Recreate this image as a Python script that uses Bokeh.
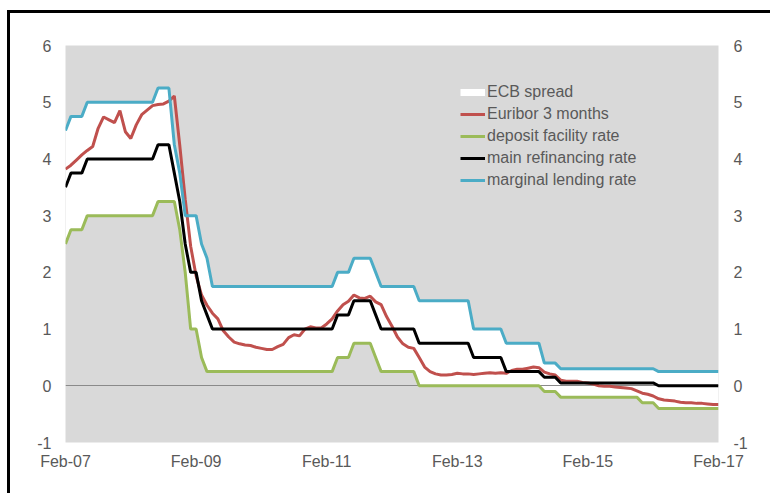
from bokeh.plotting import figure
from bokeh.models import (ColumnDataSource, FixedTicker, LinearAxis, Range1d,
                          Legend, LegendItem)
from bokeh.embed import file_html
from bokeh.resources import INLINE

# ---------------- data (monthly, Feb-2007 .. Feb-2017) ----------------
x_tick_labels = ["Feb-07", "Feb-09", "Feb-11", "Feb-13", "Feb-15", "Feb-17"]
y_ticks = [-1, 0, 1, 2, 3, 4, 5, 6]

euribor_3m = [
    3.82, 3.89, 3.98, 4.07, 4.15, 4.22, 4.54, 4.74, 4.69, 4.64, 4.85,            # 2007 Feb-Dec
    4.48, 4.36, 4.60, 4.78, 4.86, 4.94, 4.96, 4.97, 5.02, 5.11, 4.24, 3.29,      # 2008
    2.46, 1.94, 1.60, 1.42, 1.28, 1.18, 0.97, 0.86, 0.77, 0.74, 0.72, 0.71,      # 2009
    0.68, 0.66, 0.64, 0.64, 0.69, 0.73, 0.85, 0.90, 0.88, 1.00, 1.04, 1.02,      # 2010
    1.02, 1.09, 1.18, 1.32, 1.43, 1.49, 1.60, 1.55, 1.54, 1.58, 1.48, 1.43,      # 2011
    1.22, 1.05, 0.86, 0.74, 0.68, 0.66, 0.50, 0.33, 0.25, 0.21, 0.19, 0.19,      # 2012
    0.20, 0.22, 0.21, 0.21, 0.20, 0.21, 0.22, 0.23, 0.22, 0.23, 0.22, 0.27,      # 2013
    0.29, 0.29, 0.31, 0.33, 0.32, 0.24, 0.21, 0.19, 0.10, 0.08, 0.08, 0.08,      # 2014
    0.06, 0.05, 0.03, 0.00, -0.01, -0.01, -0.02, -0.03, -0.04, -0.05, -0.09, -0.13,  # 2015
    -0.15, -0.18, -0.23, -0.25, -0.26, -0.27, -0.29, -0.30, -0.30, -0.31, -0.31, -0.32,  # 2016
    -0.33, -0.33,                                                                 # 2017 Jan-Feb
]

deposit_rate = [
    2.50, 2.75, 2.75, 2.75, 3.00, 3.00, 3.00, 3.00, 3.00, 3.00, 3.00,
    3.00, 3.00, 3.00, 3.00, 3.00, 3.00, 3.25, 3.25, 3.25, 3.25, 2.75, 2.00,
    1.00, 1.00, 0.50, 0.25, 0.25, 0.25, 0.25, 0.25, 0.25, 0.25, 0.25, 0.25,
    0.25, 0.25, 0.25, 0.25, 0.25, 0.25, 0.25, 0.25, 0.25, 0.25, 0.25, 0.25,
    0.25, 0.25, 0.25, 0.50, 0.50, 0.50, 0.75, 0.75, 0.75, 0.75, 0.50, 0.25,
    0.25, 0.25, 0.25, 0.25, 0.25, 0.25, 0.00, 0.00, 0.00, 0.00, 0.00, 0.00,
    0.00, 0.00, 0.00, 0.00, 0.00, 0.00, 0.00, 0.00, 0.00, 0.00, 0.00, 0.00,
    0.00, 0.00, 0.00, 0.00, 0.00, -0.10, -0.10, -0.10, -0.20, -0.20, -0.20, -0.20,
    -0.20, -0.20, -0.20, -0.20, -0.20, -0.20, -0.20, -0.20, -0.20, -0.20, -0.20, -0.30,
    -0.30, -0.30, -0.40, -0.40, -0.40, -0.40, -0.40, -0.40, -0.40, -0.40, -0.40, -0.40,
    -0.40, -0.40,
]

main_refi_rate = [
    3.50, 3.75, 3.75, 3.75, 4.00, 4.00, 4.00, 4.00, 4.00, 4.00, 4.00,
    4.00, 4.00, 4.00, 4.00, 4.00, 4.00, 4.25, 4.25, 4.25, 3.75, 3.25, 2.50,
    2.00, 2.00, 1.50, 1.25, 1.00, 1.00, 1.00, 1.00, 1.00, 1.00, 1.00, 1.00,
    1.00, 1.00, 1.00, 1.00, 1.00, 1.00, 1.00, 1.00, 1.00, 1.00, 1.00, 1.00,
    1.00, 1.00, 1.00, 1.25, 1.25, 1.25, 1.50, 1.50, 1.50, 1.50, 1.25, 1.00,
    1.00, 1.00, 1.00, 1.00, 1.00, 1.00, 0.75, 0.75, 0.75, 0.75, 0.75, 0.75,
    0.75, 0.75, 0.75, 0.75, 0.50, 0.50, 0.50, 0.50, 0.50, 0.50, 0.25, 0.25,
    0.25, 0.25, 0.25, 0.25, 0.25, 0.15, 0.15, 0.15, 0.05, 0.05, 0.05, 0.05,
    0.05, 0.05, 0.05, 0.05, 0.05, 0.05, 0.05, 0.05, 0.05, 0.05, 0.05, 0.05,
    0.05, 0.05, 0.00, 0.00, 0.00, 0.00, 0.00, 0.00, 0.00, 0.00, 0.00, 0.00,
    0.00, 0.00,
]

marginal_lending_rate = [
    4.50, 4.75, 4.75, 4.75, 5.00, 5.00, 5.00, 5.00, 5.00, 5.00, 5.00,
    5.00, 5.00, 5.00, 5.00, 5.00, 5.00, 5.25, 5.25, 5.25, 4.25, 3.75, 3.00,
    3.00, 3.00, 2.50, 2.25, 1.75, 1.75, 1.75, 1.75, 1.75, 1.75, 1.75, 1.75,
    1.75, 1.75, 1.75, 1.75, 1.75, 1.75, 1.75, 1.75, 1.75, 1.75, 1.75, 1.75,
    1.75, 1.75, 1.75, 2.00, 2.00, 2.00, 2.25, 2.25, 2.25, 2.25, 2.00, 1.75,
    1.75, 1.75, 1.75, 1.75, 1.75, 1.75, 1.50, 1.50, 1.50, 1.50, 1.50, 1.50,
    1.50, 1.50, 1.50, 1.50, 1.00, 1.00, 1.00, 1.00, 1.00, 1.00, 0.75, 0.75,
    0.75, 0.75, 0.75, 0.75, 0.75, 0.40, 0.40, 0.40, 0.30, 0.30, 0.30, 0.30,
    0.30, 0.30, 0.30, 0.30, 0.30, 0.30, 0.30, 0.30, 0.30, 0.30, 0.30, 0.30,
    0.30, 0.30, 0.25, 0.25, 0.25, 0.25, 0.25, 0.25, 0.25, 0.25, 0.25, 0.25,
    0.25, 0.25,
]

n = len(euribor_3m)
month = list(range(n))
x_ticks = [month[i] for i in range(0, n, 24)]

src = ColumnDataSource(dict(month=month, euribor=euribor_3m, deposit=deposit_rate,
                            refi=main_refi_rate, marginal=marginal_lending_rate))

FONT = "Liberation Sans"
TXT = "#595959"

p = figure(width=760, height=480, output_backend="svg", toolbar_location=None,
           x_range=Range1d(month[0], month[-1]), y_range=Range1d(y_ticks[0], y_ticks[-1]),
           min_border_left=55, min_border_right=55, min_border_top=32, min_border_bottom=54,
           background_fill_color="#d9d9d9", border_fill_color="white",
           outline_line_color=None)
# outer black frame of the picture (only its top and left edges are in view)
p.styles = {"margin-left": "7px", "margin-top": "10px",
            "border-left": "3px solid black", "border-top": "3px solid black",
            "border-right": "0px none white", "border-bottom": "0px none white",
            "box-sizing": "content-box", "outline": "none"}
p.xgrid.visible = False
p.ygrid.visible = False

r_spread = p.varea(x="month", y1="deposit", y2="marginal", source=src,
                   fill_color="white", fill_alpha=1.0)
p.hspan(y=[0], line_color="#8a8a8a", line_width=1)
r_eur = p.line("month", "euribor", source=src, line_color="#c0504d", line_width=3)
r_dep = p.line("month", "deposit", source=src, line_color="#9bbb59", line_width=3)
r_ref = p.line("month", "refi", source=src, line_color="#000000", line_width=3)
r_mar = p.line("month", "marginal", source=src, line_color="#4bacc6", line_width=3)
# legend swatch for the white band (a line with no visible points)
r_spread_key = p.line(x=[month[0]], y=[float("nan")], line_color="white", line_width=7)

def style_axis(ax, standoff):
    ax.axis_line_color = None
    ax.major_tick_line_color = None
    ax.minor_tick_line_color = None
    ax.major_tick_in = 0
    ax.major_tick_out = 0
    ax.major_label_text_font = FONT
    ax.major_label_text_font_size = "16px"
    ax.major_label_text_color = TXT
    ax.major_label_standoff = standoff

p.xaxis.ticker = FixedTicker(ticks=x_ticks)
p.xaxis.major_label_overrides = {t: lab for t, lab in zip(x_ticks, x_tick_labels)}
style_axis(p.xaxis[0], 10)

y_labels = {t: str(t) for t in y_ticks}
p.yaxis.ticker = FixedTicker(ticks=y_ticks)
p.yaxis.major_label_overrides = y_labels
style_axis(p.yaxis[0], 14)

right_axis = LinearAxis(ticker=FixedTicker(ticks=y_ticks), major_label_overrides=y_labels)
style_axis(right_axis, 15)
p.add_layout(right_axis, "right")

legend = Legend(items=[
    LegendItem(label="ECB spread", renderers=[r_spread_key]),
    LegendItem(label="Euribor 3 months", renderers=[r_eur]),
    LegendItem(label="deposit facility rate", renderers=[r_dep]),
    LegendItem(label="main refinancing rate", renderers=[r_ref]),
    LegendItem(label="marginal lending rate", renderers=[r_mar]),
], location=(395, 252), glyph_width=25, glyph_height=20, label_height=20,
   label_standoff=2, spacing=2, padding=0, margin=0,
   border_line_color=None, background_fill_alpha=0,
   label_text_font=FONT, label_text_font_size="16px", label_text_color=TXT)
p.add_layout(legend)

open("out.html", "w").write(file_html(p, INLINE))
